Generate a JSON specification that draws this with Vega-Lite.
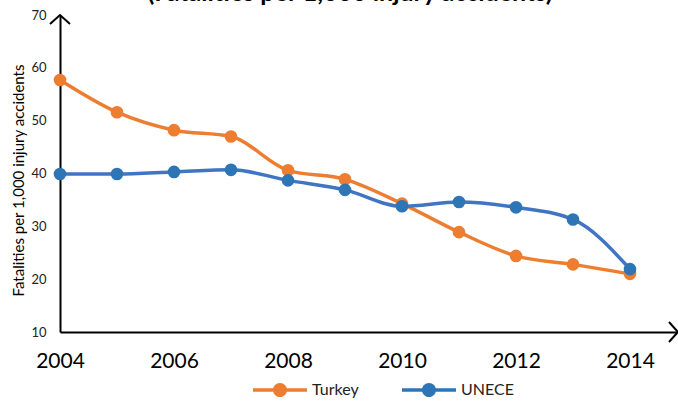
{
  "$schema": "https://vega.github.io/schema/vega-lite/v6.json",
  "autosize": "none",
  "width": 618,
  "height": 317,
  "padding": {"left": 60, "top": 15, "right": 0, "bottom": 69},
  "background": "white",
  "config": {"font": "Lato", "view": {"stroke": null}},
  "title": {
    "text": "(Fatalities per 1,000 injury accidents)",
    "frame": "group",
    "anchor": "middle",
    "baseline": "alphabetic",
    "offset": 0,
    "dy": 17,
    "dx": -19,
    "fontSize": 25,
    "fontWeight": "bold",
    "color": "#000000"
  },
  "datasets": {
    "series": [
      {"year": 2004, "series": "Turkey", "value": 57.7},
      {"year": 2005, "series": "Turkey", "value": 51.6},
      {"year": 2006, "series": "Turkey", "value": 48.2},
      {"year": 2007, "series": "Turkey", "value": 47.0},
      {"year": 2008, "series": "Turkey", "value": 40.6},
      {"year": 2009, "series": "Turkey", "value": 38.9},
      {"year": 2010, "series": "Turkey", "value": 34.3},
      {"year": 2011, "series": "Turkey", "value": 28.9},
      {"year": 2012, "series": "Turkey", "value": 24.4},
      {"year": 2013, "series": "Turkey", "value": 22.8},
      {"year": 2014, "series": "Turkey", "value": 21.0},
      {"year": 2004, "series": "UNECE", "value": 39.9},
      {"year": 2005, "series": "UNECE", "value": 39.9},
      {"year": 2006, "series": "UNECE", "value": 40.3},
      {"year": 2007, "series": "UNECE", "value": 40.7},
      {"year": 2008, "series": "UNECE", "value": 38.7},
      {"year": 2009, "series": "UNECE", "value": 36.9},
      {"year": 2010, "series": "UNECE", "value": 33.8},
      {"year": 2011, "series": "UNECE", "value": 34.6},
      {"year": 2012, "series": "UNECE", "value": 33.6},
      {"year": 2013, "series": "UNECE", "value": 31.3},
      {"year": 2014, "series": "UNECE", "value": 21.9}
    ],
    "arrows": [
      {"year": 2004, "value": 70, "dir": "up"},
      {"year": 2014.842, "value": 10, "dir": "right"}
    ]
  },
  "layer": [
    {
      "data": {"name": "series"},
      "mark": {"type": "line", "interpolate": "monotone", "strokeWidth": 3.5},
      "encoding": {
        "x": {
          "field": "year", "type": "quantitative",
          "scale": {"domain": [2004, 2014.842], "nice": false, "zero": false},
          "axis": {
            "values": [2004, 2006, 2008, 2010, 2012, 2014],
            "format": "d",
            "title": null,
            "grid": false,
            "ticks": false,
            "labelFlush": false,
            "labelFontSize": 21,
            "labelColor": "#000000",
            "labelPadding": 18,
            "domainColor": "#000000",
            "domainWidth": 2
          }
        },
        "y": {
          "field": "value", "type": "quantitative",
          "scale": {"domain": [10, 70], "nice": false, "zero": false},
          "axis": {
            "values": [10, 20, 30, 40, 50, 60, 70],
            "title": "Fatalities per 1,000 injury  accidents",
            "titleFontSize": 15,
            "titleFontWeight": "normal",
            "titleColor": "#000000",
            "titlePadding": 4,
            "titleY": 165,
            "grid": false,
            "ticks": false,
            "labelFontSize": 13,
            "labelColor": "#222222",
            "labelPadding": 14,
            "domainColor": "#000000",
            "domainWidth": 2
          }
        },
        "color": {
          "field": "series", "type": "nominal",
          "scale": {"domain": ["Turkey", "UNECE"], "range": ["#ED7D31", "#3F75C2"]},
          "legend": {
            "title": null,
            "orient": "none",
            "direction": "horizontal",
            "legendX": 193,
            "legendY": 348,
            "symbolType": "M-1,-0.065L1,-0.065L1,0.065L-1,0.065Z M0.26,0A0.26,0.26 0 1 1 -0.26,0A0.26,0.26 0 1 1 0.26,0Z",
            "symbolSize": 2916,
            "symbolStrokeWidth": 0,
            "symbolOpacity": 1,
            "labelFontSize": 16,
            "labelColor": "#222222",
            "labelOffset": 5,
            "columnPadding": 43,
            "encode": {
              "symbols": {"update": {"fill": {"scale": "color", "field": "value"}, "strokeWidth": {"value": 0}}}
            }
          }
        }
      }
    },
    {
      "data": {"name": "series"},
      "mark": {"type": "point", "filled": true, "opacity": 1, "size": 160, "shape": "circle"},
      "encoding": {
        "x": {"field": "year", "type": "quantitative"},
        "y": {"field": "value", "type": "quantitative"},
        "fill": {
          "field": "series", "type": "nominal",
          "scale": {"domain": ["Turkey", "UNECE"], "range": ["#ED7D31", "#2E75B6"]},
          "legend": null
        }
      }
    },
    {
      "data": {"name": "arrows"},
      "mark": {"type": "point", "filled": false, "strokeWidth": 2, "color": "#000000", "opacity": 1, "size": 400},
      "encoding": {
        "x": {"field": "year", "type": "quantitative"},
        "y": {"field": "value", "type": "quantitative"},
        "shape": {
          "field": "dir", "type": "nominal",
          "scale": {"domain": ["up", "right"], "range": ["M-1,0.9L0,0L1,0.9", "M-0.9,-1L0,0L-0.9,1"]},
          "legend": null
        }
      }
    }
  ]
}
